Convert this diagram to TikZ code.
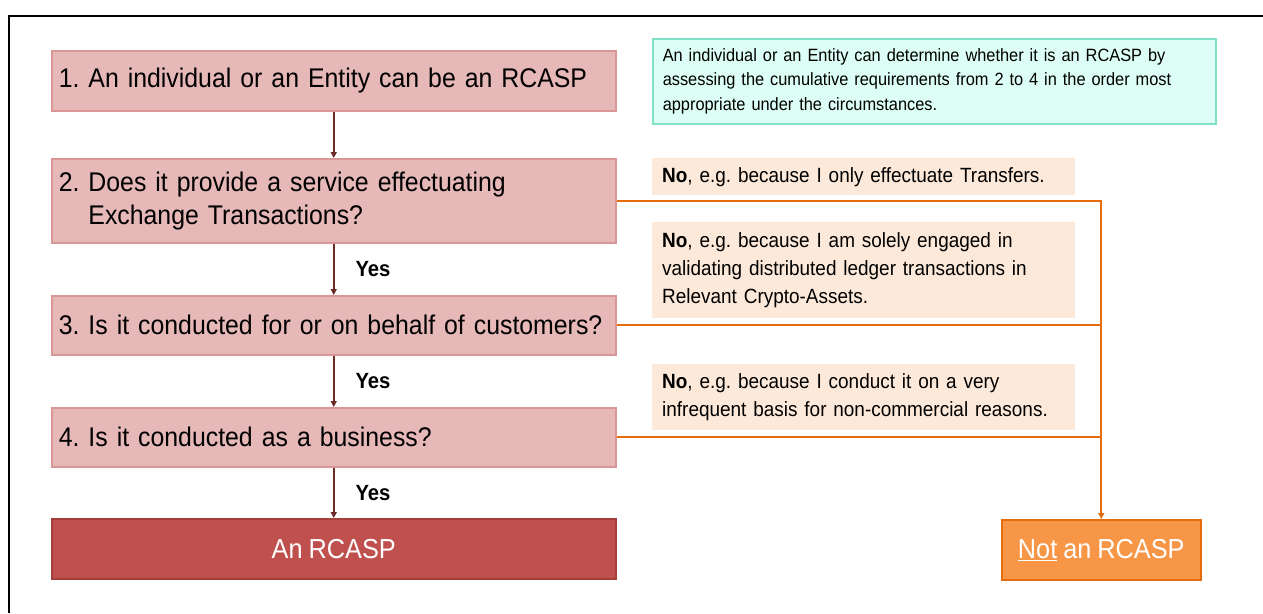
\documentclass[tikz,border=0pt]{standalone}
\usepackage{fontspec}
\setmainfont{Liberation Sans}[FakeStretch=0.92, WordSpace=0.85]
\usetikzlibrary{arrows.meta}
\frenchspacing

\definecolor{stepfill}{HTML}{E6B9B8}
\definecolor{stepline}{HTML}{D99694}
\definecolor{rcaspfill}{HTML}{C0504D}
\definecolor{rcaspline}{HTML}{A33E3B}
\definecolor{notfill}{HTML}{F79646}
\definecolor{notline}{HTML}{E46C0A}
\definecolor{reasonfill}{HTML}{FDE9D9}
\definecolor{infofill}{HTML}{DCFEF5}
\definecolor{infoline}{HTML}{7EE3C6}
\definecolor{flowline}{HTML}{6B2A28}

\tikzset{
    question/.style={draw=stepline, fill=stepfill, line width=1.5pt, anchor=north west,
        text width=550pt, inner xsep=7pt, inner ysep=0pt, align=left,
        font=\fontsize{27}{33}\selectfont},
    reason/.style={fill=reasonfill, anchor=north west, text width=403pt, inner xsep=10pt,
        inner ysep=0pt, align=left, font=\fontsize{20.6}{28}\selectfont},
    outcome/.style={line width=1.5pt, anchor=north west, minimum height=60pt, inner sep=0pt,
        text=white, font=\fontsize{27.5}{33}\selectfont},
    yesarrow/.style={draw=flowline, line width=1.5pt, -{Triangle[length=6pt,width=6pt]}},
    noarrow/.style={draw=notline, line width=2pt},
    yeslabel/.style={right=20pt, inner sep=1pt, font=\bfseries\fontsize{22}{26}\selectfont}
}

\begin{document}
\begin{tikzpicture}[x=1pt, y=-1pt]
    \useasboundingbox (0,0) rectangle (1263,613);
    \draw[line width=2pt] (9,613) -- (9,16) -- (1263,16);

    \node[question, minimum height=60pt] (q1) at (51,50) {1. An individual or an Entity can be an RCASP};
    \node[question, minimum height=84pt] (q2) at (51,158) {2. Does it provide a service effectuating\\\phantom{2. }Exchange Transactions?};
    \node[question, minimum height=59pt] (q3) at (51,295) {3. Is it conducted for or on behalf of customers?};
    \node[question, minimum height=59pt] (q4) at (51,407) {4. Is it conducted as a business?};
    \node[outcome, draw=rcaspline, fill=rcaspfill, minimum width=564pt] (rcasp) at (51,518) {An RCASP};
    \node[outcome, draw=notline, fill=notfill, minimum width=199pt] (notrcasp) at (1001,519) {\underline{Not} an RCASP};

    \node[draw=infoline, fill=infofill, line width=1.5pt, anchor=north west, text width=543pt,
        minimum height=85pt, inner xsep=10pt, inner ysep=0pt, align=left,
        font=\fontsize{17.8}{24.5}\selectfont] (info) at (652,38)
        {An individual or an Entity can determine whether it is an RCASP by\\
        assessing the cumulative requirements from 2 to 4 in the order most\\
        appropriate under the circumstances.};

    \node[reason, minimum height=37pt] (no2) at (652,158) {\textbf{No}, e.g. because I only effectuate Transfers.};
    \node[reason, minimum height=96pt] (no3) at (652,222) {\textbf{No}, e.g. because I am solely engaged in\\
        validating distributed ledger transactions in\\Relevant Crypto-Assets.};
    \node[reason, minimum height=66pt] (no4) at (652,364) {\textbf{No}, e.g. because I conduct it on a very\\
        infrequent basis for non-commercial reasons.};

    \draw[yesarrow] (q1) -- (q2);
    \draw[yesarrow] (q2) -- node[yeslabel] {Yes} (q3);
    \draw[yesarrow] (q3) -- node[yeslabel] {Yes} (q4);
    \draw[yesarrow] (q4) -- node[yeslabel] {Yes} (rcasp);

    \draw[noarrow, -{Triangle[length=6pt,width=6pt]}] (q2.east) -| (notrcasp.north);
    \draw[noarrow] (q3.east) -- (q3.east -| notrcasp.north);
    \draw[noarrow] (q4.east) -- (q4.east -| notrcasp.north);
\end{tikzpicture}
\end{document}
